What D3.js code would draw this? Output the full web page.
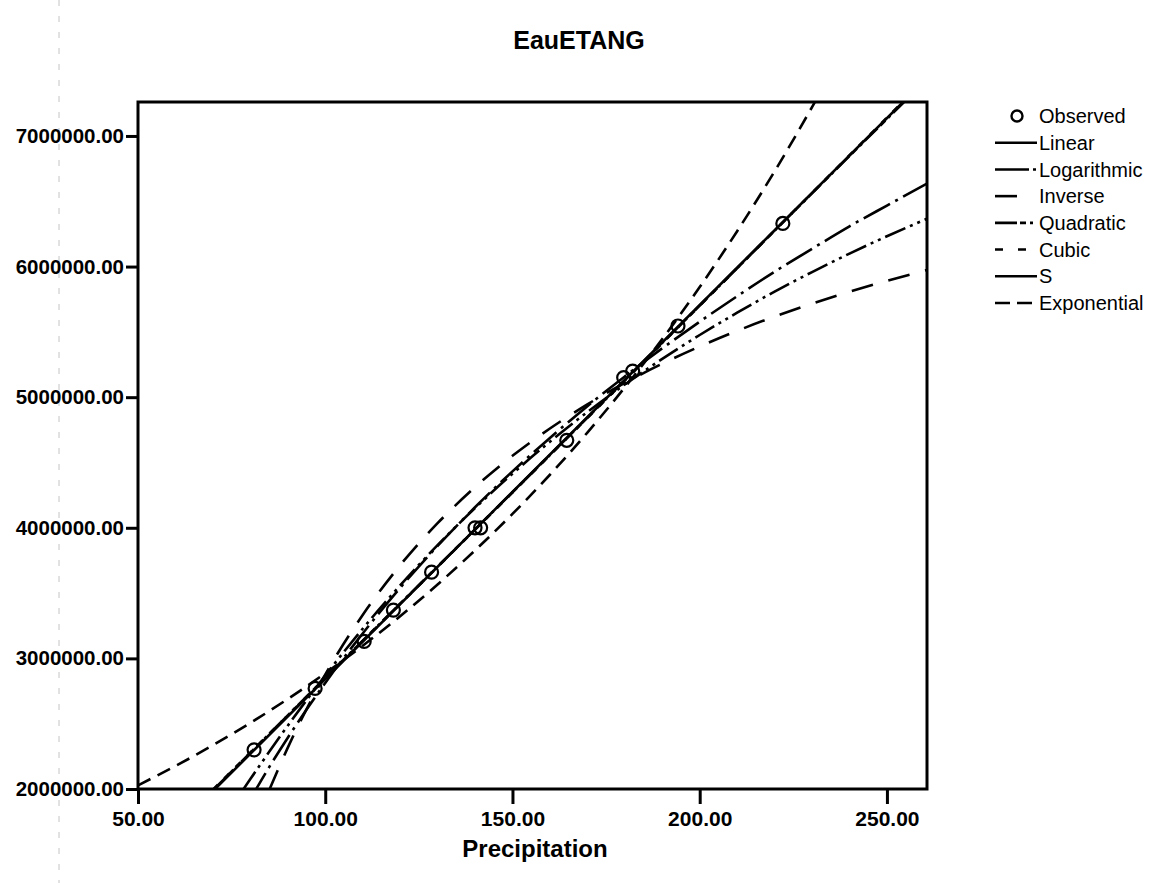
<!DOCTYPE html>
<html>
<head>
<meta charset="utf-8">
<script src="https://cdn.jsdelivr.net/npm/d3@7"></script>
<style>
  html, body { margin: 0; padding: 0; background: #fff; }
  svg { display: block; font-family: Arial, "Liberation Sans", Helvetica, sans-serif; }
</style>
</head>
<body>
<svg id="chart" width="1158" height="883"></svg>
<script>
// ---------- data ----------
const title = "EauETANG";
const xTitle = "Precipitation";
const xTicks = [50, 100, 150, 200, 250];
const yTicks = [2000000, 3000000, 4000000, 5000000, 6000000, 7000000];

const observedX = [81.0, 97.3, 110.4, 118.2, 128.4, 140.0, 141.5, 164.5, 179.7, 182.1, 194.2, 222.2];
const observedY = [2300000, 2770000, 3130000, 3370000, 3660000, 4000000, 4000000, 4670000, 5150000, 5200000, 5545000, 6330000];

const linearX = [70.0, 150.0, 260.7];
const linearY = [1983000, 4274000, 7443000];

const logX = [80, 85, 90, 100, 110, 120, 130, 140, 150, 160, 170, 180, 190, 200, 210, 220, 230, 240, 250, 260.7];
const logY = [1923000, 2166000, 2393000, 2812000, 3191000, 3540000, 3861000, 4157000, 4432000, 4688000, 4931000, 5159000, 5374000, 5578000, 5773000, 5961000, 6136000, 6308000, 6467000, 6635000];

const inverseX = [85, 90, 100, 110, 120, 130, 140, 150, 160, 170, 180, 190, 200, 210, 220, 230, 240, 250, 260.7];
const inverseY = [1989000, 2317000, 2876000, 3332000, 3713000, 4035000, 4311000, 4551000, 4760000, 4945000, 5109000, 5256000, 5388000, 5508000, 5617000, 5716000, 5807000, 5891000, 5973000];

const quadraticX = [70, 100, 150, 200, 250, 260.7];
const quadraticY = [1990000, 2850000, 4272000, 5702000, 7130000, 7432000];

const cubicX = [70, 100, 150, 200, 250, 260.7];
const cubicY = [1995000, 2848000, 4270000, 5700000, 7140000, 7448000];

const sX = [78, 80, 90, 100, 110, 120, 130, 140, 150, 160, 170, 180, 190, 200, 210, 220, 230, 240, 250, 260.7];
const sY = [1992000, 2076000, 2485000, 2869000, 3227000, 3559000, 3867000, 4151000, 4414000, 4659000, 4886000, 5097000, 5293000, 5476000, 5647000, 5808000, 5958000, 6099000, 6232000, 6366000];

const expX = [50, 60, 70, 80, 90, 100, 110, 120, 130, 140, 150, 160, 170, 180, 190, 200, 210, 220, 230, 232];
const expY = [2028000, 2176000, 2335000, 2506000, 2689000, 2886000, 3097000, 3323000, 3566000, 3827000, 4106000, 4406000, 4729000, 5075000, 5445000, 5843000, 6271000, 6729000, 7221000, 7323000];

const legendLabels = ["Observed", "Linear", "Logarithmic", "Inverse", "Quadratic", "Cubic", "S", "Exponential"];

// ---------- layout ----------
const svg = d3.select("#chart");
const L = 138, R = 927, T = 102, B = 789;
const FONT = "Arial, 'Liberation Sans', Helvetica, sans-serif";

const x = d3.scaleLinear().domain([50, 260.7]).range([L, R]);
const y = d3.scaleLinear().domain([2000000, 7260000]).range([B, T]);

// faint scan artefact line at far left
svg.append("line")
  .attr("x1", 59).attr("x2", 59).attr("y1", 0).attr("y2", 883)
  .attr("stroke", "#c4c4c4").attr("stroke-width", 1).attr("stroke-dasharray", "6,10");

// title
svg.append("text")
  .attr("x", 579).attr("y", 49)
  .attr("text-anchor", "middle")
  .attr("font-size", 25).attr("font-weight", "bold")
  .style("font-family", FONT)
  .text(title);

// axes
const yAxis = d3.axisLeft(y).tickValues(yTicks).tickFormat(d3.format(".2f")).tickSize(12).tickPadding(2);
const gy = svg.append("g").attr("transform", `translate(${L},0)`).call(yAxis);
gy.select(".domain").remove();
gy.selectAll(".tick line").attr("stroke", "#000").attr("stroke-width", 3);
gy.selectAll(".tick text").attr("font-size", 20.5).attr("fill", "#000").attr("font-weight", "bold")
  .style("font-family", FONT);

const xAxis = d3.axisBottom(x).tickValues(xTicks).tickFormat(d3.format(".2f")).tickSize(15).tickPadding(7);
const gx = svg.append("g").attr("transform", `translate(0,${B})`).call(xAxis);
gx.select(".domain").remove();
gx.selectAll(".tick line").attr("stroke", "#000").attr("stroke-width", 3);
gx.selectAll(".tick text").attr("font-size", 21).attr("fill", "#000").attr("font-weight", "bold")
  .style("font-family", FONT);

// x title
svg.append("text")
  .attr("x", 535).attr("y", 857)
  .attr("text-anchor", "middle")
  .attr("font-size", 24).attr("font-weight", "bold")
  .style("font-family", FONT)
  .text(xTitle);

// clip
svg.append("clipPath").attr("id", "plotclip")
  .append("rect").attr("x", L).attr("y", T).attr("width", R - L).attr("height", B - T);

const series = [
  { name: "Linear", xs: linearX, ys: linearY, dash: null, legendDash: null },
  { name: "Logarithmic", xs: logX, ys: logY, dash: "30,6,3,6", legendDash: "34,4,3,10" },
  { name: "Inverse", xs: inverseX, ys: inverseY, dash: "22,16", legendDash: "22,40" },
  { name: "Quadratic", xs: quadraticX, ys: quadraticY, dash: "18,4,7,4,3,4", legendDash: "22,3,6,4,3,10" },
  { name: "Cubic", xs: cubicX, ys: cubicY, dash: "7,9", legendDash: "8,15,8,20" },
  { name: "S", xs: sX, ys: sY, dash: "22,5,3,5,3,5", legendDash: null },
  { name: "Exponential", xs: expX, ys: expY, dash: "14,8", legendDash: "15,7,15,20" }
];

const line = d3.line().x(d => x(d[0])).y(d => y(d[1])).curve(d3.curveMonotoneX);
const gLines = svg.append("g").attr("clip-path", "url(#plotclip)");
series.forEach(s => {
  const pts = s.xs.map((v, i) => [v, s.ys[i]]);
  gLines.append("path")
    .datum(pts)
    .attr("d", line)
    .attr("fill", "none")
    .attr("stroke", "#000")
    .attr("stroke-width", 2.6)
    .attr("stroke-dasharray", s.dash);
});

// observed points
svg.append("g").selectAll("circle")
  .data(observedX.map((v, i) => [v, observedY[i]]))
  .join("circle")
  .attr("cx", d => x(d[0])).attr("cy", d => y(d[1]))
  .attr("r", 6.5)
  .attr("fill", "none").attr("stroke", "#000").attr("stroke-width", 2.2);

// frame
svg.append("rect")
  .attr("x", L).attr("y", T).attr("width", R - L).attr("height", B - T)
  .attr("fill", "none").attr("stroke", "#000").attr("stroke-width", 3);

// legend
const lg = svg.append("g").attr("font-size", 20)
  .style("font-family", FONT);
const rowY = d3.scalePoint().domain(legendLabels).range([116, 303]);
lg.append("circle")
  .attr("cx", 1017).attr("cy", rowY("Observed")).attr("r", 5.5)
  .attr("fill", "none").attr("stroke", "#000").attr("stroke-width", 2.4);
lg.append("text").attr("x", 1039).attr("y", rowY("Observed")).attr("dy", "0.36em").text("Observed");
series.forEach(s => {
  const yy = rowY(s.name);
  lg.append("line")
    .attr("x1", 995).attr("x2", 1037).attr("y1", yy).attr("y2", yy)
    .attr("stroke", "#000").attr("stroke-width", 2.6)
    .attr("stroke-dasharray", s.legendDash);
  lg.append("text").attr("x", 1039).attr("y", yy).attr("dy", "0.36em").text(s.name);
});
</script>
</body>
</html>
